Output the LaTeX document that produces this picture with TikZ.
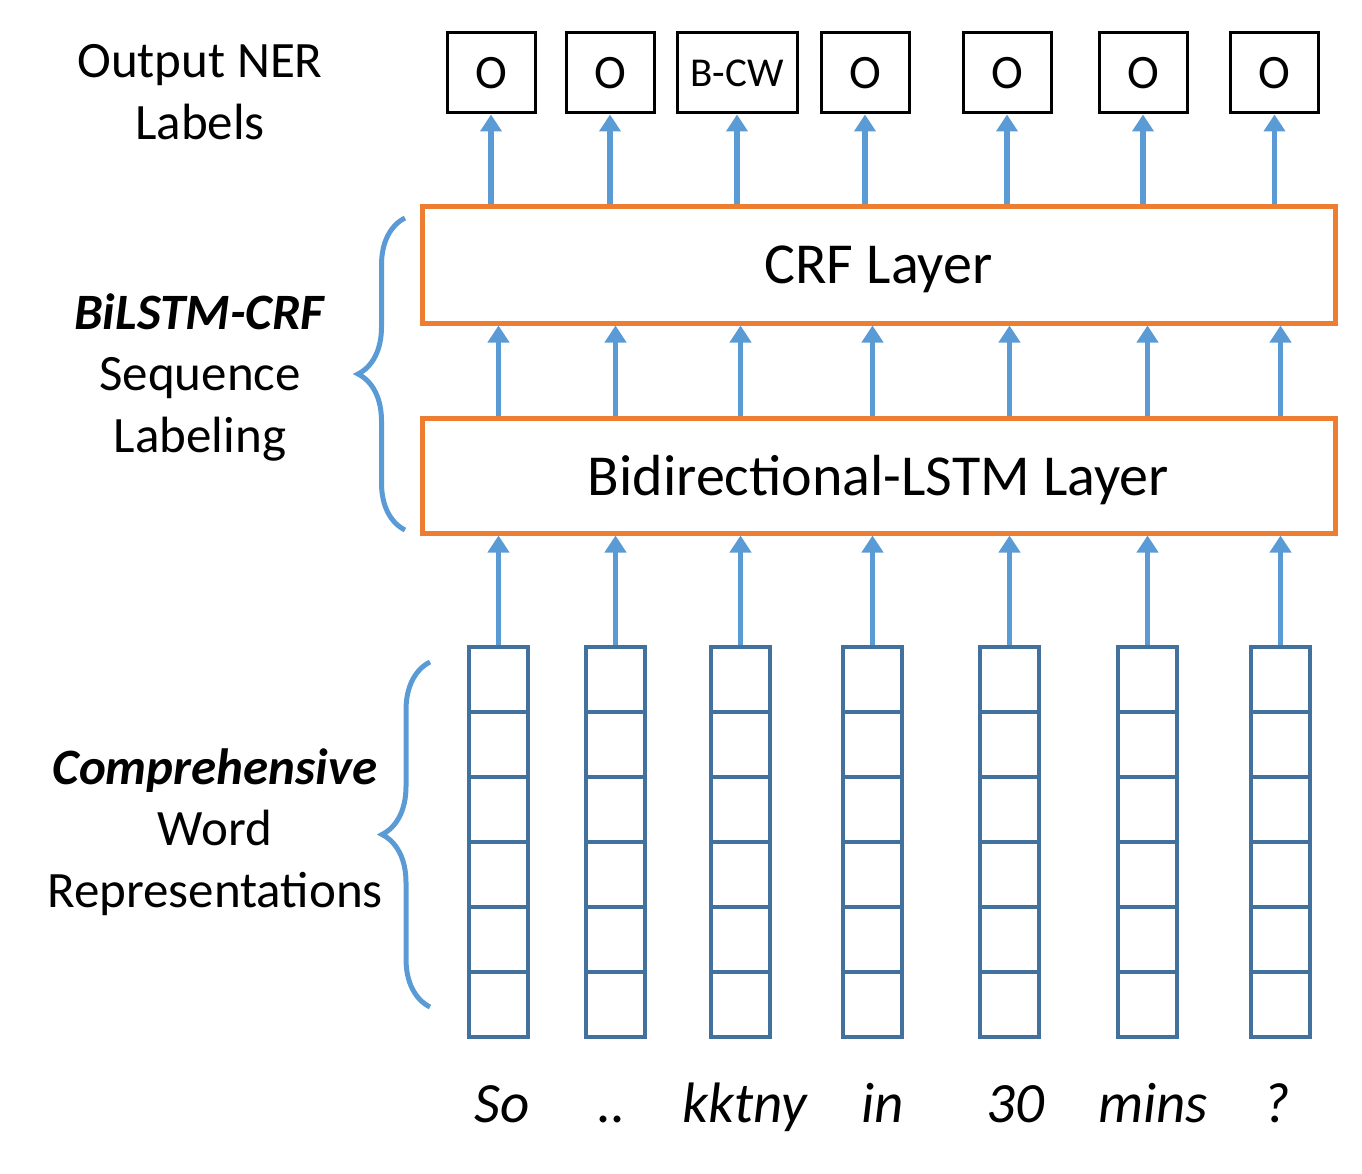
\documentclass[tikz,border=0pt]{standalone}
\usepackage{fontspec}
\setmainfont{Carlito}
\usepackage{tikz}
\usetikzlibrary{arrows.meta}
\usetikzlibrary{decorations.pathreplacing}
\definecolor{crforange}{HTML}{ED7D31}
\definecolor{arrowblue}{HTML}{5B9BD5}
\definecolor{cellblue}{HTML}{41719C}
\tikzset{
  nerbox/.style   = {shape=rectangle, draw=black, line width=3pt,
                     minimum width=88pt, minimum height=80pt, inner sep=0pt,
                     font=\fontsize{48}{56}\selectfont},
  layerbox/.style = {shape=rectangle, draw=crforange, line width=5pt,
                     minimum width=913pt, minimum height=116pt, text depth=0pt,
                     font=\fontsize{58}{68}\selectfont},
  cell/.style     = {shape=rectangle, draw=cellblue, line width=4pt,
                     minimum width=59pt, minimum height=65pt, inner sep=0pt},
  uparrow/.style  = {draw=arrowblue, line width=5.5pt,
                     -{Triangle[length=17pt,width=21pt]}},
  side/.style     = {align=center, font=\fontsize{51}{61.5}\selectfont},
  word/.style     = {anchor=base, font=\fontsize{57}{66}\selectfont\itshape},
  bracket/.style  = {draw=arrowblue, line width=5pt, decorate,
                     decoration={brace, amplitude=#1}}
}
\begin{document}
\begin{tikzpicture}
  [
    x = 1pt,
    y = -1pt
  ]
  \useasboundingbox (0,0) rectangle (1362,1174);

  % layers
  \node [layerbox] (crf)  at (878.5,265)   {CRF Layer};
  \node [layerbox, minimum height=115pt] (lstm) at (878.5,475.5) {Bidirectional-LSTM Layer};

  % output labels
  \foreach \x/\t/\w/\s [count=\i] in {491/O/88/48, 610/O/88/48, 737/B-CW/120/41,
      865/O/88/48, 1007/O/88/48, 1143/O/88/48, 1274.5/O/88/48}
  {
    \node [nerbox, minimum width=\w pt, font=\fontsize{\s}{\s}\selectfont] (o\i) at (\x,73) {\t};
    \draw [uparrow] (crf.north -| o\i) -- (o\i.south);
  }

  % word vectors
  \foreach \x [count=\i] in {498.5,615.5,740.5,872.5,1009.5,1147.5,1280.5}
  {
    \foreach \j in {1,...,6}
      \node [cell] (v\i-\j) at (\x,614.5+65*\j) {};
    \draw [uparrow] (v\i-1.north) -- (lstm.south -| v\i-1);
    \draw [uparrow] (lstm.north -| v\i-1) -- (crf.south -| v\i-1);
  }

  % words
  \node [word] (w1) at (502,1122)  {So};
  \node [word] (w2) at (612,1122)  {..};
  \node [word] (w3) at (745,1122)  {kktny};
  \node [word] (w4) at (883,1122)  {in};
  \node [word] (w5) at (1015,1122) {30};
  \node [word] (w6) at (1153,1122) {mins};
  \node [word] (w7) at (1277,1122) {?};

  % side labels
  \node [side] (ner) at (200,92)  {Output NER\\Labels};
  \node [side] (seq) at (200,377) {\textbf{\textit{BiLSTM-CRF}}\\Sequence\\Labeling};
  \node [side] (rep) at (215,832) {\textbf{\textit{Comprehensive}}\\Word\\Representations};

  \draw [bracket=47pt] (405,530) -- (405,218);
  \draw [bracket=48pt] (430,1007) -- (430,662);
\end{tikzpicture}
\end{document}
